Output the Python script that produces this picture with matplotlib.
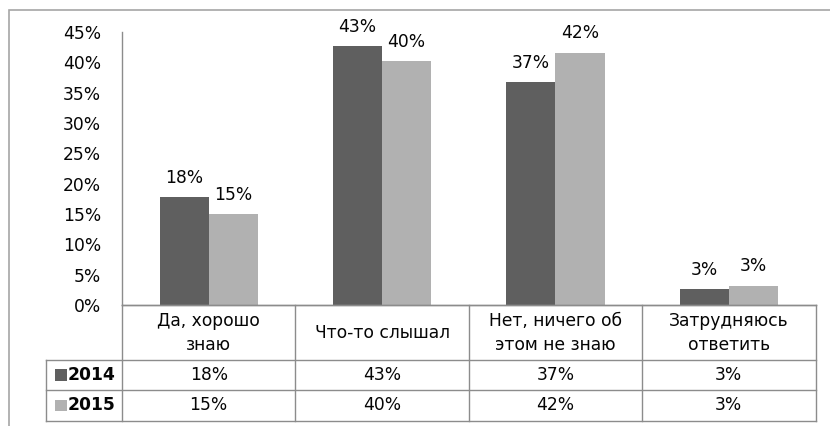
import matplotlib
matplotlib.use("Agg")
import matplotlib.pyplot as plt
from matplotlib import transforms
from matplotlib.lines import Line2D
from matplotlib.patches import Rectangle

plt.rcParams['font.family'] = ['DejaVu Sans']

categories = ["Да, хорошо\nзнаю", "Что-то слышал", "Нет, ничего об\nэтом не знаю", "Затрудняюсь\nответить"]
series_names = ["2014", "2015"]
values_2014 = [17.8, 42.7, 36.7, 2.6]
values_2015 = [15.0, 40.2, 41.6, 3.2]
yticks = [0, 5, 10, 15, 20, 25, 30, 35, 40, 45]

colors = ["#5f5f5f", "#b1b1b1"]
grid_c = "#8c8c8c"
txt_c = "#050505"
W, H = 830, 426
FS = 12.3

fig = plt.figure(figsize=(W / 100, H / 100), dpi=100)
fx = lambda px: px / W
fy = lambda py: 1 - py / H

ax = fig.add_axes([fx(122), fy(305), fx(815.5) - fx(122), fy(32) - fy(305)])
n = len(categories)
bw = 0.283
xs = list(range(n))
series = [values_2014, values_2015]
for k, vals in enumerate(series):
    offs = -bw / 2 if k == 0 else bw / 2
    ax.bar([x + offs for x in xs], vals, width=bw, color=colors[k], linewidth=0)
    for x, v in zip(xs, vals):
        ax.annotate(f"{round(v)}%", (x + offs, v), xytext=(0, 14), textcoords="offset points",
                    ha="center", va="center", fontsize=FS, color=txt_c)

ax.set_xlim(-0.5, n - 0.5)
ax.set_ylim(0, 45)
ax.set_yticks(yticks)
ax.set_yticklabels([f"{t}%" for t in yticks], fontsize=FS, color=txt_c)
ax.set_xticks([])
ax.tick_params(axis="y", length=0, pad=15)
for s in ["top", "right"]:
    ax.spines[s].set_visible(False)
ax.spines["left"].set_color(grid_c)
ax.spines["bottom"].set_color(grid_c)
ax.spines["left"].set_linewidth(1)
ax.spines["bottom"].set_linewidth(1)

# Data table below the chart
bt = transforms.blended_transform_factory(ax.transData, fig.transFigure)
row_y = [305, 360, 390, 421]
left_px = 45.5
for i, py in enumerate(row_y):
    x0 = fx(122) if i == 0 else fx(left_px)
    fig.add_artist(Line2D([x0, fx(815.5)], [fy(py), fy(py)], color=grid_c, lw=1, transform=fig.transFigure))
for b in range(n + 1):
    fig.add_artist(Line2D([b - 0.5, b - 0.5], [fy(305), fy(421)], color=grid_c, lw=1, transform=bt, clip_on=False))
fig.add_artist(Line2D([fx(left_px), fx(left_px)], [fy(360), fy(421)], color=grid_c, lw=1, transform=fig.transFigure))

for x, c in zip(xs, categories):
    fig.text(x, fy(333), c, transform=bt, ha="center", va="center", fontsize=FS,
             color=txt_c, linespacing=1.4)

row_centers = [375, 405.5]
for k, vals in enumerate(series):
    yc = fy(row_centers[k])
    fig.add_artist(Rectangle((fx(55), yc - 5.5 / H), 11.5 / W, 11.5 / H, transform=fig.transFigure,
                             facecolor=colors[k], edgecolor="none"))
    fig.text(fx(68), yc, series_names[k], ha="left", va="center", fontsize=FS,
             fontweight="bold", color=txt_c)
    for x, v in zip(xs, vals):
        fig.text(x, yc, f"{round(v)}%", transform=bt, ha="center", va="center",
                 fontsize=FS, color=txt_c)

fig.add_artist(Rectangle((fx(9), -0.1), 1.1, fy(10) + 0.1, transform=fig.transFigure,
                         facecolor="none", edgecolor="#a6a6a6", lw=1.2))

fig.savefig("out.png", dpi=100)
